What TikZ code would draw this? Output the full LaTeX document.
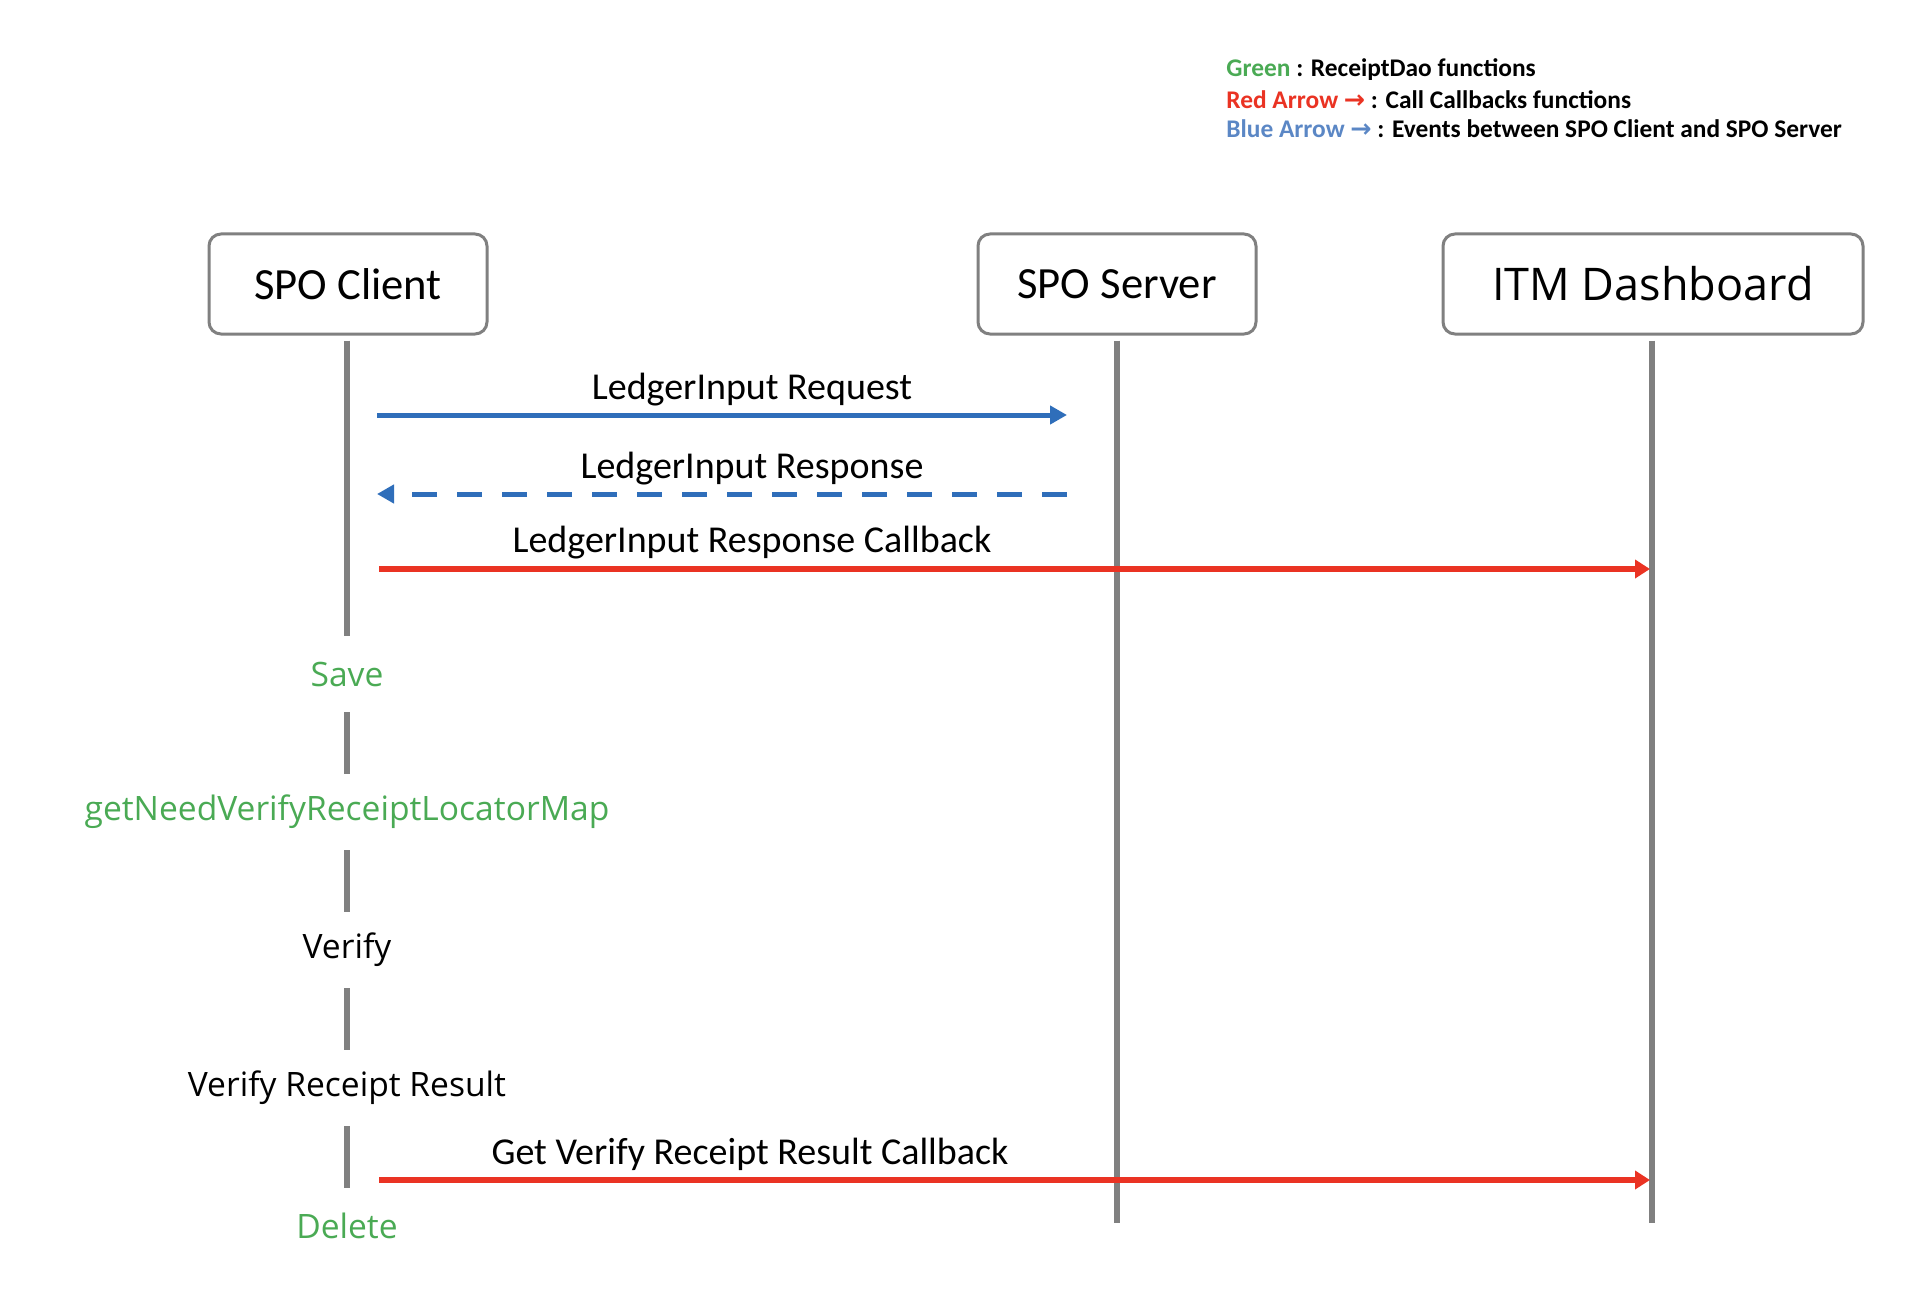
\documentclass[tikz,border=0pt]{standalone}
\usepackage{fontspec}
\setmainfont{Carlito}
\newfontfamily\segoe{Open Sans}
\newfontfamily\symfont{DejaVu Sans}
\usetikzlibrary{arrows.meta}

\definecolor{fgreen}{RGB}{74,170,84}
\definecolor{cbred}{RGB}{234,51,35}
\definecolor{evblue}{RGB}{47,110,186}
\definecolor{lgblue}{RGB}{91,135,197}
\definecolor{lifegray}{RGB}{128,128,128}

\tikzset{
    actor/.style={draw=lifegray, line width=1.5pt, rounded corners=6pt,
        minimum height=50pt, fill=white},
    life/.style={lifegray, line width=2.6pt},
    step label/.style={minimum height=38pt, inner sep=0pt,
        font=\segoe\fontsize{16.8}{18}\selectfont},
    msg/.style={font=\fontsize{19}{21}\selectfont, inner sep=0pt},
    event/.style={evblue, line width=2.5pt, -{Triangle[length=8.5pt, width=9pt]}},
    callback/.style={cbred, line width=3pt, -{Triangle[length=7.5pt, width=9pt]}},
    legend/.style={anchor=west, inner sep=0pt,
        font=\bfseries\fontsize{12.7}{14}\selectfont}
}

\begin{document}
\begin{tikzpicture}[x=0.5pt, y=-0.5pt]
    \useasboundingbox (0,0) rectangle (1932,1300);

    % legend
    \node[legend] (lg1) at (1226,70) {\textcolor{fgreen}{Green} : ReceiptDao functions};
    \node[legend] (lg2) at (1226,100) {\textcolor{cbred}{Red Arrow {\symfont\bfseries →}} : Call Callbacks functions};
    \node[legend] (lg3) at (1226,129) {\textcolor{lgblue}{Blue Arrow {\symfont\bfseries →}} : Events between SPO Client and SPO Server};

    % actors
    \node[actor, minimum width=139pt, font=\fontsize{22.3}{24}\selectfont] (client) at (348,284) {SPO Client};
    \node[actor, minimum width=139pt, font=\fontsize{22.3}{24}\selectfont] (server) at (1117,284) {SPO Server};
    \node[actor, minimum width=210pt, font=\segoe\fontsize{22.5}{24}\selectfont] (itm) at (1653,284) {ITM Dashboard};

    % client steps
    \node[step label, text=fgreen] (save) at (347,674) {Save};
    \node[step label, text=fgreen] (getmap) at (347,812) {getNeedVerifyReceiptLocatorMap};
    \node[step label] (verify) at (347,950) {Verify};
    \node[step label] (result) at (347,1088) {Verify Receipt Result};
    \node[step label, text=fgreen] (delete) at (347,1226) {Delete};

    \coordinate (serverend) at (1117,1223);
    \coordinate (itmend) at (1652,1223);

    % lifelines
    \draw[life, shorten <=2.5pt] (client.south -| save) -- (save.north);
    \draw[life] (save) -- (getmap);
    \draw[life] (getmap) -- (verify);
    \draw[life] (verify) -- (result);
    \draw[life] (result) -- (delete);
    \draw[life, shorten <=2.5pt] (server.south) -- (serverend);
    \draw[life, shorten <=2.5pt] (itm.south -| itmend) -- (itmend);

    % messages
    \coordinate (reqa) at (377,415);
    \coordinate (reqb) at (1067,415);
    \coordinate (resa) at (1067,494);
    \coordinate (resb) at (377,494);
    \coordinate (cba) at (379,569);
    \coordinate (cbb) at (1650,569);
    \coordinate (gva) at (379,1180);
    \coordinate (gvb) at (1650,1180);

    \draw[event] (reqa) -- (reqb);
    \draw[event, dash pattern=on 12.5pt off 10pt] (resa) -- (resb);
    \draw[callback] (cba) -- (cbb);
    \draw[callback] (gva) -- (gvb);

    \node[msg] (reqlbl) at (752,390) {LedgerInput Request};
    \node[msg] (reslbl) at (752,469) {LedgerInput Response};
    \node[msg] (cblbl) at (752,543) {LedgerInput Response Callback};
    \node[msg] (gvlbl) at (750,1154) {Get Verify Receipt Result Callback};
\end{tikzpicture}
\end{document}
